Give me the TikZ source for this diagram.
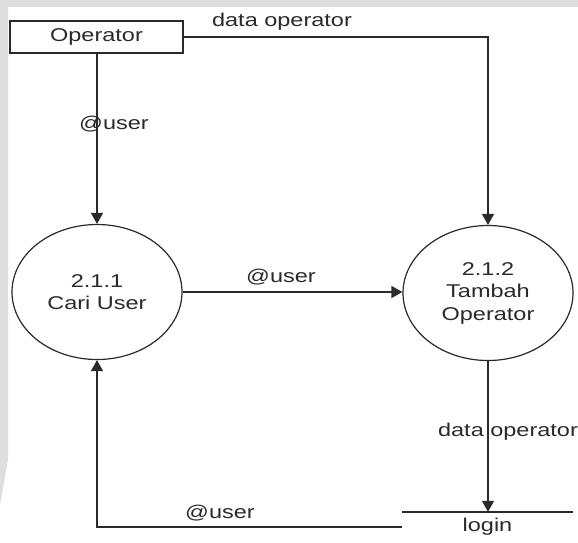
\documentclass[tikz,border=0pt]{standalone}
\usepackage{fontspec}
\setmainfont{Liberation Sans}[FakeStretch=1.27]
\usetikzlibrary{arrows.meta,shapes.geometric}
\definecolor{ink}{HTML}{2A2A2A}
\definecolor{faint}{HTML}{DEDEDE}
\begin{document}
\begin{tikzpicture}[x=1pt,y=-1pt,
  txt/.style={font=\fontsize{18.5}{22.5}\selectfont,text=ink},
  lbl/.style={txt,inner sep=0pt},
  flow/.style={draw=ink,line width=1.5pt,-{Triangle[length=11pt,width=12pt]}},
  plain/.style={draw=ink,line width=1.5pt},
  proc/.style={txt,ellipse,draw=ink,line width=1.2pt,minimum width=170pt,
    minimum height=135pt,inner sep=0pt,align=center},
  entity/.style={txt,rectangle,draw=ink,line width=1.5pt,minimum width=173pt,
    minimum height=32pt,inner sep=0pt},
  store/.style={txt,rectangle,minimum width=171pt,minimum height=30pt,inner sep=0pt}]
  % page and faint background marks
  \fill[white] (0,0) rectangle (578,542);
  \useasboundingbox (0,0) rectangle (578,542);
  \fill[faint] (0,0) -- (578,0) -- (578,7) -- (0,7) -- cycle;
  \fill[faint] (0,0) -- (8,0) -- (8,460) -- (0,505) -- cycle;

  % external entity, processes and data store
  \node[entity] (op) at (96.5,37) {Operator};
  \node[proc] (cari) at (97,292) {2.1.1\\Cari User};
  \node[proc] (tambah) at (488,293) {2.1.2\\Tambah\\Operator};
  \node[store] (login) at (487.5,527) {login};
  \draw[plain] (login.north west) -- (login.north east);

  % bend point of the top flow
  \coordinate (tr) at (tambah.north |- op.east);

  % data flows
  \draw[flow] (op.south -| cari.north) -- (cari.north);
  \draw[flow] (op.east) -- (tr) -- (tambah.north);
  \draw[flow] (cari.east) -- (cari.east -| tambah.west);
  \draw[flow] (tambah.south) -- (tambah.south |- login.north);
  \draw[flow] (login.west) -| (cari.south);

  % flow labels
  \node[lbl] (l1) at (282,22) {data operator};
  \node[lbl] (l2) at (114,124) {@user};
  \node[lbl] (l3) at (281,277) {@user};
  \node[lbl] (l4) at (508,432) {data operator};
  \node[lbl] (l5) at (220,513) {@user};
\end{tikzpicture}
\end{document}
